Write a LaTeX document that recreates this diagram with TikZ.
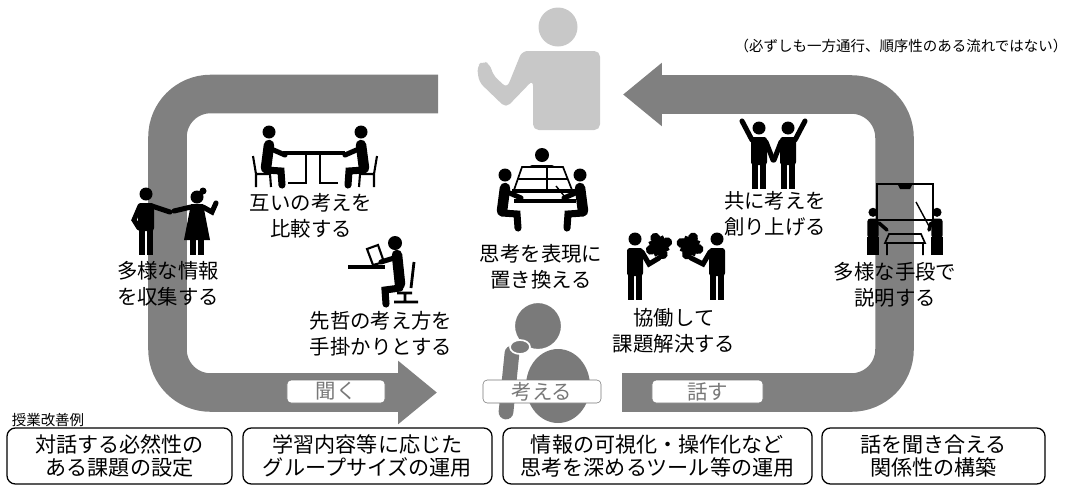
\documentclass[tikz,border=0pt]{standalone}
\usepackage{fontspec}
\setmainfont{Noto Sans CJK JP}
\usetikzlibrary{arrows.meta}

\definecolor{bandgrey}{RGB}{128,128,128}
\definecolor{thinker}{RGB}{122,122,122}
\definecolor{teacher}{RGB}{200,200,200}
\definecolor{taggrey}{RGB}{120,120,120}

\begin{document}
\begin{tikzpicture}[
  x=0.025cm, y=-0.025cm,
  band/.style={draw=bandgrey, line width=27.4pt, rounded corners=30.6pt,
    -{Triangle[length=27.7pt,width=43.4pt]}},
  lbl/.style={align=center, font=\fontsize{14.5}{18.5}\selectfont},
  tag/.style={draw=taggrey, fill=white, rounded corners=3pt, text=taggrey,
    inner sep=0pt, minimum height=0.575cm, font=\fontsize{14.5}{16}\selectfont},
  case/.style={draw, line width=0.9pt, rounded corners=6pt, align=center,
    inner sep=0pt, minimum height=1.4cm, font=\fontsize{15}{16.5}\selectfont},
  small/.style={font=\fontsize{10.3}{12}\selectfont},
  limb/.style={line width=3.6pt, line cap=round},
  sitter/.pic={
    \fill (3,-38) circle (6.5);
    \draw[line width=7.5pt, line cap=round] (3,-25) -- (0,-2);
    \draw[limb] (3,-22) -- (19,-15);
    \draw[line width=5pt, line cap=round] (0,0) -- (15,1) -- (16,15);
  },
  chair/.pic={
    \draw[line width=1.5pt] (-13,-14) -- (-10,4) -- (-10,17) (-10,4) -- (4,4) -- (5,17);
  },
  stander/.pic={
    \fill (0,-61) circle (6.5);
    \fill[rounded corners=2pt] (-8,-52) rectangle (8,-24);
    \draw[line width=4.3pt] (-4,-26) -- (-4,0) (4,-26) -- (4,0);
  },
  piece/.pic={
    \fill (-8,-8) rectangle (8,8);
    \foreach \a in {0,90,180,270} \fill (\a:9) circle (5);
  }]
\useasboundingbox (0,0) rectangle (1075,488);

% the two big loop arrows
\coordinate (listen0) at (438,94);
\coordinate (listen1) at (167.5,94);
\coordinate (listen2) at (167.5,392.5);
\coordinate (listen3) at (437,392.5);
\coordinate (talk0) at (622,392.5);
\coordinate (talk1) at (894.5,392.5);
\coordinate (talk2) at (894.5,94.5);
\coordinate (talk3) at (623,94.5);
\draw[band] (listen0) -- (listen1) -- (listen2) -- (listen3);
\draw[band] (talk0) -- (talk1) -- (talk2) -- (talk3);

% teacher
\fill[teacher] (558,27) circle (19.5);
\fill[teacher, rounded corners=4pt] (600,51) -- (600,130) -- (533,130) -- (533,80)
  -- (506,108) -- (479,82) -- (477,66) -- (483,61) -- (490,64) -- (493,75)
  -- (507,88) -- (522,51) -- cycle;

% thinking pupil
\fill[thinker] (558,386) ellipse [x radius=32, y radius=37];
\filldraw[thinker, draw=white, line width=1.5pt] (538,326) circle (24);
\draw[white, line width=13pt, line cap=round] (506,412) -- (512,353);
\draw[thinker, line width=10.5pt, line cap=round] (506,412) -- (512,353);
\filldraw[thinker, draw=white, line width=1.2pt] (520,347) ellipse [x radius=10, y radius=7];

% comparing at desks
\pic at (266,170) {sitter}; \pic at (266,170) {chair};
\pic[xscale=-1] at (364,170) {sitter}; \pic[xscale=-1] at (364,170) {chair};
\draw[line width=2.5pt] (283,153) -- (345,153);
\draw[line width=1.5pt] (288,183) -- (306,183) -- (306,153) (338,183) -- (320,183) -- (320,153);

% collecting information
\pic at (146,255) {stander};
\draw[limb] (152,206) -- (170,212);
\draw[limb] (140,206) -- (134,220) -- (139,228);
\fill (197,197) circle (6.5);
\fill (203,191) circle (3.5);
\fill (191,204) -- (203,204) -- (210,240) -- (184,240) -- cycle;
\draw[line width=3.6pt] (193,238) -- (193,255) (201,238) -- (201,255);
\draw[limb] (191,207) -- (174,211);
\draw[limb] (203,207) -- (212,212) -- (216,203);

% reading at a laptop
\draw[line width=3pt] (348,267) -- (385,267);
\draw[line width=1.5pt] (367,249) -- (378,245) -- (384,262) -- (373,265) -- cycle;
\fill (395,243) circle (7);
\draw[line width=7.5pt, line cap=round] (397,255) -- (400,284);
\draw[limb] (394,258) -- (381,262);
\draw[line width=5pt, line cap=round] (400,288) -- (385,290) -- (386,304);
\draw[line width=2pt] (414,262) -- (411,288) (397,293) -- (412,293) (405,293) -- (405,301) (394,302) -- (418,302);

% three around a table
\fill (542,155) circle (7);
\fill[rounded corners=3pt] (528,165) rectangle (556,185);
\filldraw[fill=white, line width=1.2pt] (522,167) -- (563,167) -- (572,190) -- (514,190) -- cycle;
\draw[line width=1pt] (547,167) -- (547,190) (518,179) -- (567,179);
\draw[line width=2.5pt] (512,191) -- (578,191) (514,201) -- (576,201);
\pic at (502,213) {sitter};
\pic[xscale=-1] at (583,213) {sitter};
\draw[line width=1pt] (565,197) -- (556,186);

% puzzle pieces
\pic at (635,300) {stander}; \pic at (717,300) {stander};
\pic[rotate=25] at (659,246) {piece}; \pic[rotate=-20] at (690,246) {piece};
\draw[limb] (642,252) -- (649,264) -- (659,258);
\draw[limb] (710,252) -- (703,264) -- (691,258);

% cheering
\pic at (759,189) {stander}; \pic at (788,189) {stander};
\draw[limb] (752,140) -- (742,121);
\draw[limb] (795,140) -- (805,121);
\draw[limb] (766,142) -- (773,160);
\draw[limb] (781,142) -- (774,160);

% whiteboard
\draw[line width=1.5pt] (877,184) rectangle (933,220);
\fill (897,183) -- (913,183) -- (910,189) -- (900,189) -- cycle;
\pic[scale=0.7] at (873,255) {stander}; \pic[scale=0.7] at (937,255) {stander};
\draw[line width=1pt] (930,228) -- (916,202);
\draw[line width=2.5pt, line cap=round] (879,223) -- (887,230) (931,223) -- (929,230);
\draw[line width=1.2pt] (889,234) -- (921,234) -- (925,243) -- (885,243) -- cycle
  (887,243) -- (887,255) (923,243) -- (923,255);

% activity labels
\node[lbl] (compare) at (311,216) {互いの考えを\\比較する};
\node[lbl] (collect) at (168,284) {多様な情報\\を収集する};
\node[lbl] (sentetsu) at (381,334) {先哲の考え方を\\手掛かりとする};
\node[lbl] (express) at (541,267) {思考を表現に\\置き換える};
\node[lbl] (kyodo) at (674,331) {協働して\\課題解決する};
\node[lbl] (tomoni) at (775,214) {共に考えを\\創り上げる};
\node[lbl] (shudan) at (895,285) {多様な手段で\\説明する};

% stage tags
\node[tag, minimum width=2.45cm] (listen) at (336,391.5) {聞く};
\node[tag, minimum width=2.95cm] (think) at (542,391.5) {考える};
\node[tag, minimum width=2.775cm] (talk) at (707.5,391.5) {話す};

\node[small] (note) at (901,46) {（必ずしも一方通行、順序性のある流れではない）};
\node[small] (cases) at (48,420) {授業改善例};

% improvement cases
\node[case, minimum width=5.625cm] (case1) at (119.5,456) {対話する必然性の\\ある課題の設定};
\node[case, minimum width=6.225cm] (case2) at (367.5,456) {学習内容等に応じた\\グループサイズの運用};
\node[case, minimum width=7.725cm] (case3) at (657.5,456) {情報の可視化・操作化など\\思考を深めるツール等の運用};
\node[case, minimum width=5.575cm] (case4) at (933.5,456) {話を聞き合える\\関係性の構築};
\end{tikzpicture}
\end{document}
